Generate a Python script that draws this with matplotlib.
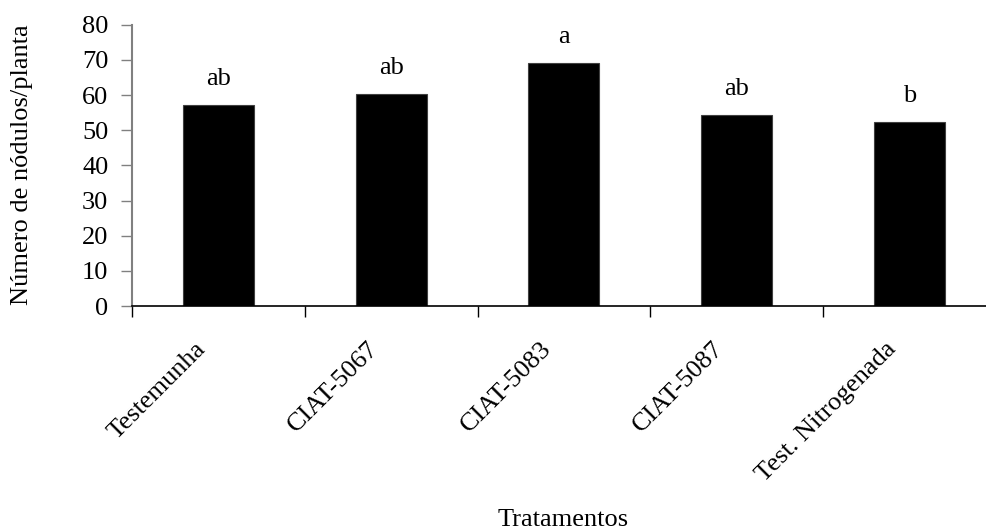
import matplotlib
matplotlib.use("Agg")
import matplotlib.pyplot as plt
from matplotlib.transforms import ScaledTranslation

# data
tratamentos = ["Testemunha", "CIAT-5067", "CIAT-5083", "CIAT-5087", "Test. Nitrogenada"]
nodulos = [57.2, 60.2, 69.2, 54.2, 52.2]
letras = ["ab", "ab", "a", "ab", "b"]
yticks = [0, 10, 20, 30, 40, 50, 60, 70, 80]

plt.rcParams['font.family'] = ['Liberation Serif', 'DejaVu Serif']
fs = 19

fig = plt.figure(figsize=(9.86, 5.30), dpi=100)
ax = fig.add_axes([0.1339, 0.4226, 0.876, 0.5308])

x = list(range(len(tratamentos)))
ax.bar(x, nodulos, width=0.41, color='black', edgecolor='#404040', linewidth=0.8)

for xi, v, l in zip(x, nodulos, letras):
    ax.annotate(l, (xi, v), xytext=(0, 14.4), textcoords='offset points',
                ha='center', va='baseline', fontsize=fs)

ax.set_xlim(-0.5, len(tratamentos) - 0.5)
ax.set_ylim(0, 80)
ax.set_yticks(yticks)
ax.tick_params(axis='y', direction='out', length=8, width=1, color='#808080',
               labelsize=fs, pad=9)

# ticks between categories, labels at the centers
ax.set_xticks([i - 0.5 for i in range(len(tratamentos))])
ax.set_xticklabels([])
ax.set_xticks(x, minor=True)
ax.set_xticklabels(tratamentos, minor=True, rotation=45, ha='right', va='top',
                   rotation_mode='anchor', fontsize=fs)
ax.tick_params(axis='x', which='major', direction='out', length=8, width=1, color='black')
ax.tick_params(axis='x', which='minor', length=0, pad=23)
shift = ScaledTranslation(-24 / 100, 0, fig.dpi_scale_trans)
for lab in ax.get_xticklabels(minor=True):
    lab.set_transform(lab.get_transform() + shift)

for s in ['top', 'right']:
    ax.spines[s].set_visible(False)
ax.spines['left'].set_color('#808080')
ax.spines['left'].set_linewidth(1.5)
ax.spines['bottom'].set_color('black')
ax.spines['bottom'].set_linewidth(1.2)

fig.text(22.5 / 986, 1 - 164.5 / 530, "Número de nódulos/planta", rotation=90,
         ha='center', va='center', fontsize=fs)
fig.text(563 / 986, 1 - 526 / 530, "Tratamentos", ha='center', va='baseline', fontsize=fs)

fig.savefig("out.png", dpi=100)
